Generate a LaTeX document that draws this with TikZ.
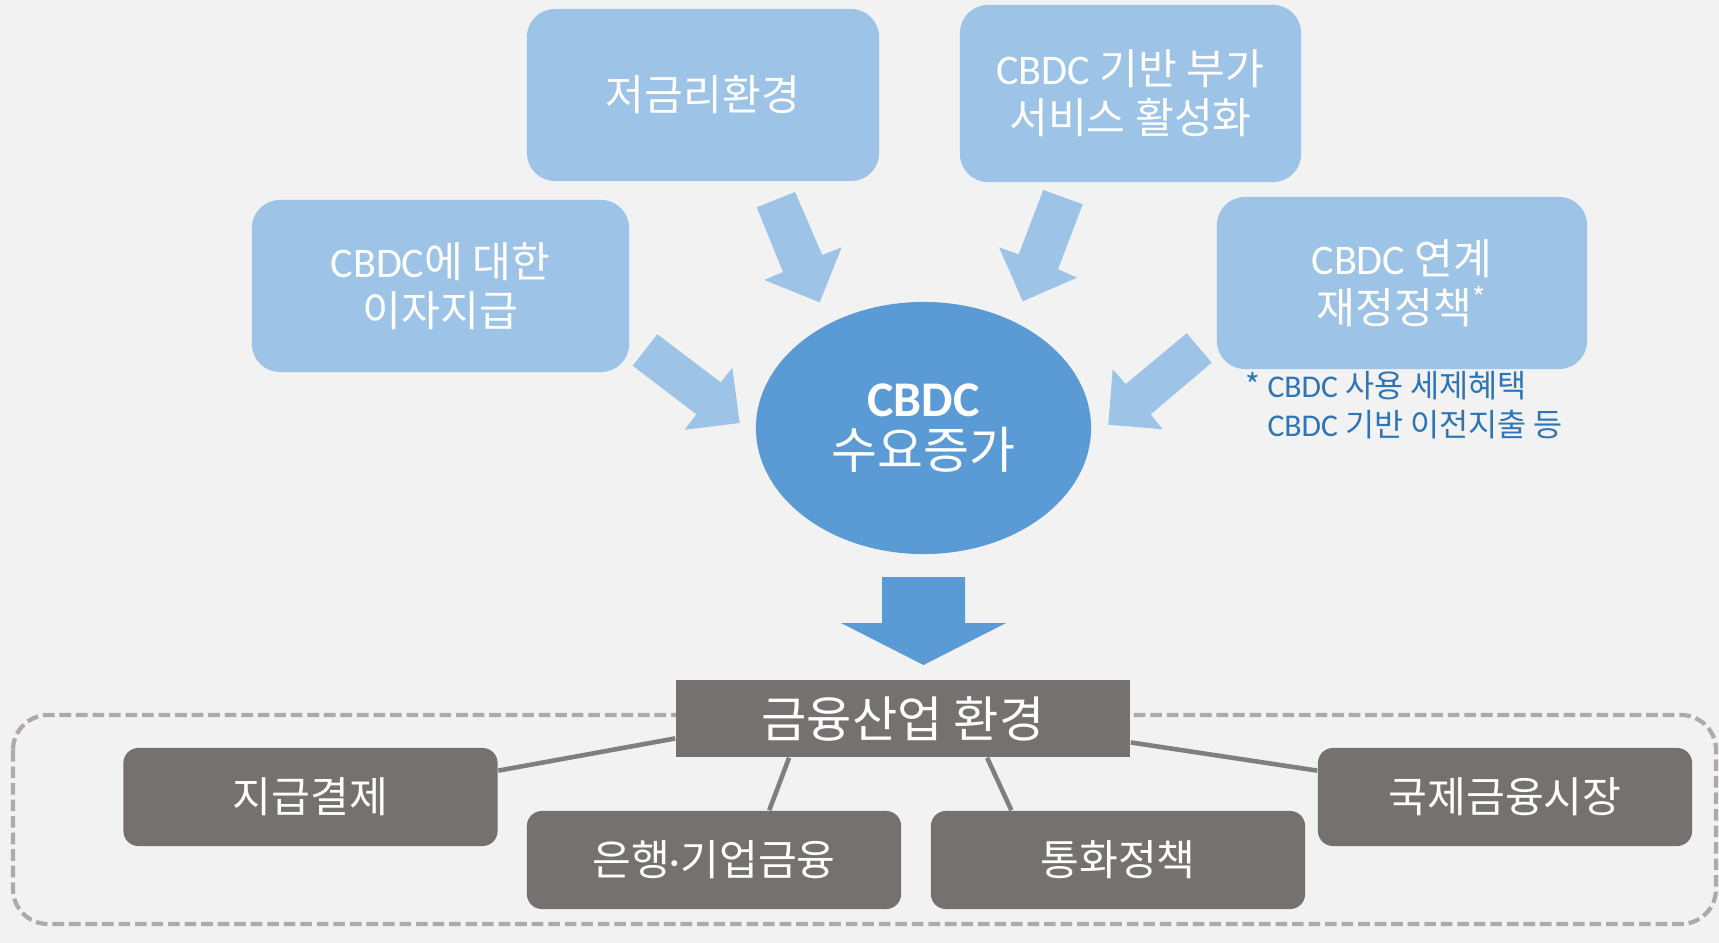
\documentclass[tikz,border=0pt]{standalone}
\usepackage{fontspec}
\setmainfont{Noto Sans CJK KR}
\newfontfamily\latin{Carlito}
\usetikzlibrary{shapes,arrows}
\definecolor{bgcol}{HTML}{F2F2F2}
\definecolor{lightblue}{HTML}{9DC3E6}
\definecolor{midblue}{HTML}{5B9BD5}
\definecolor{darkgrey}{HTML}{767171}
\definecolor{linegrey}{HTML}{7F7F7F}
\definecolor{zonegrey}{HTML}{AEAAAA}
\definecolor{noteblue}{HTML}{2E75B6}
\newcommand{\cbdc}{{\latin CBDC}}
\tikzstyle{driver} = [rectangle, rounded corners=0.28cm, fill=lightblue, text=white, align=center, font=\fontsize{12}{14}\selectfont]
\tikzstyle{demand} = [ellipse, fill=midblue, text=white, align=center, minimum width=3.35cm, minimum height=2.52cm, font=\fontsize{14.2}{14.7}\selectfont]
\tikzstyle{sector} = [rectangle, rounded corners=0.15cm, fill=darkgrey, text=white, minimum width=3.74cm, minimum height=0.98cm, font=\fontsize{12}{14}\selectfont]
\tikzstyle{industry} = [rectangle, fill=darkgrey, text=white, minimum width=4.54cm, minimum height=0.77cm, font=\fontsize{14}{15}\selectfont]
\tikzstyle{link} = [draw=linegrey, line width=1.3pt]
\tikzstyle{blockarrow} = [fill=lightblue]
\tikzstyle{zone} = [draw=zonegrey, line width=1.2pt, dash pattern=on 3.3pt off 1.4pt, rounded corners=0.35cm]
\begin{document}
\begin{tikzpicture}[x=0.01cm, y=-0.01cm]

\fill[bgcol] (0,0) rectangle (1719,943);
\useasboundingbox (0,0) rectangle (1719,943);

\draw [zone] (13,715) rectangle (1716,924);

\node (lowrate) [driver, minimum width=3.52cm, minimum height=1.72cm] at (703,95) {저금리환경};
\node (service) [driver, minimum width=3.41cm, minimum height=1.77cm] at (1130.5,93.5) {\cbdc{} 기반 부가\\서비스 활성화};
\node (interest) [driver, minimum width=3.77cm, minimum height=1.72cm] at (440.5,286) {\cbdc{}에 대한\\이자지급};
\node (fiscal) [driver, minimum width=3.70cm, minimum height=1.72cm] at (1402,283) {\cbdc{} 연계\\재정정책\textsuperscript{*}};
\node (note) [anchor=west, align=left, inner sep=0, text=noteblue, font=\fontsize{9}{11.2}\selectfont] at (1245,405) {* \cbdc{} 사용 세제혜택\\\hphantom{* }\cbdc{} 기반 이전지출 등};

\node (demand) [demand] at (923.5,428) {{\latin\bfseries CBDC}\\수요증가};

\node (industry) [industry] at (903,718.5) {금융산업 환경};
\node (payment) [sector] at (310.5,797) {지급결제};
\node (banking) [sector] at (714,860) {은행{\latin ·}기업금융};
\node (monetary) [sector] at (1118,860) {통화정책};
\node (intl) [sector] at (1505,797) {국제금융시장};

% block arrows into the ellipse
\fill [blockarrow] (756.7,207.3) -- (795,192) -- (822.3,255) -- (841.7,247.3) -- (819.7,302.3) -- (764.3,280) -- (783,272) -- cycle;
\fill [blockarrow] (1043.3,190) -- (1082.7,204.3) -- (1058,269.3) -- (1077,277.7) -- (1022.7,301.3) -- (999,247.3) -- (1018.7,254.3) -- cycle;
\fill [blockarrow] (657.3,334.3) -- (632.7,365.7) -- (696.3,414.3) -- (684.7,429.7) -- (739.7,423) -- (732.3,367.7) -- (720.7,382.3) -- cycle;
\fill [blockarrow] (1186.7,333.3) -- (1211.7,362.7) -- (1150.7,414.3) -- (1162.7,429.3) -- (1108.3,424.7) -- (1112.7,369.3) -- (1125.7,384) -- cycle;

% big arrow down
\fill [midblue] (882,577) -- (965,577) -- (965,623) -- (1006,623) -- (923.5,665) -- (841,623) -- (882,623) -- cycle;

\draw [link] (industry.185) -- (payment.8);
\draw [link] (industry.199) -- (banking.42.5);
\draw [link] (industry.335.6) -- (monetary.155.2);
\draw [link] (industry.354.3) -- (intl.172);

\end{tikzpicture}
\end{document}
